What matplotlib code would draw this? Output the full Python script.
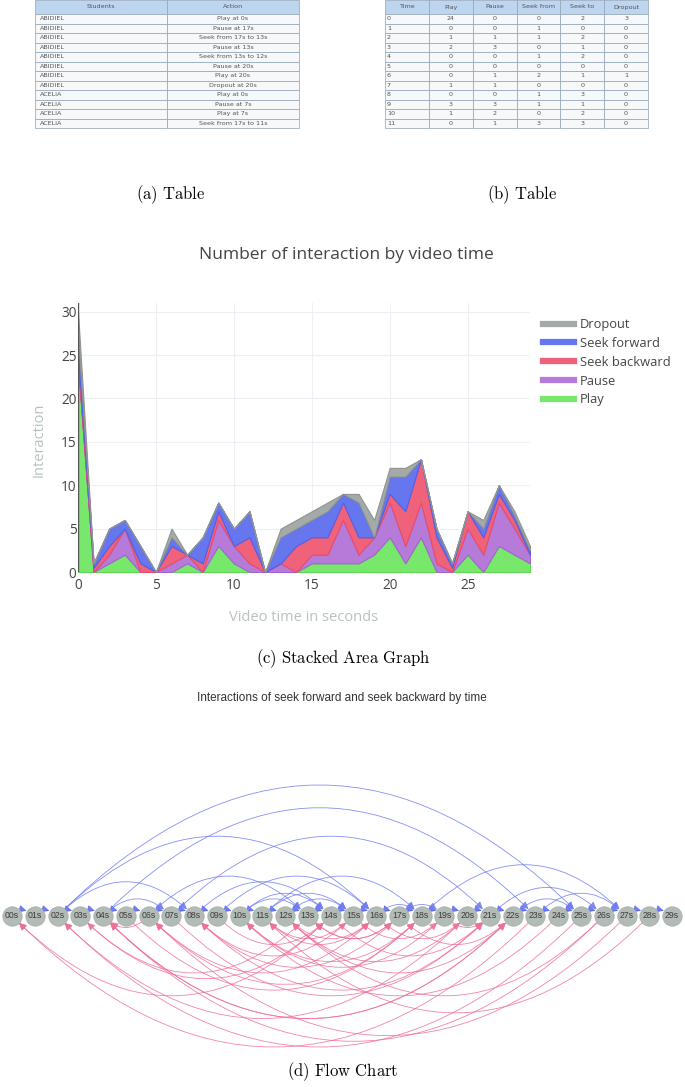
import numpy as np
import matplotlib
matplotlib.use('Agg')
import matplotlib.pyplot as plt
from matplotlib.table import Table
from matplotlib.patches import FancyArrowPatch
from matplotlib.lines import Line2D

plt.rcParams['mathtext.fontset'] = 'cm'

# ---- data: table (a)
students = ['ABIDIEL'] * 8 + ['ACELIA'] * 4
actions = ['Play at 0s', 'Pause at 17s', 'Seek from 17s to 13s', 'Pause at 13s',
           'Seek from 13s to 12s', 'Pause at 20s', 'Play at 20s', 'Dropout at 20s',
           'Play at 0s', 'Pause at 7s', 'Play at 7s', 'Seek from 17s to 11s']

# ---- data: table (b)
tb_header = ['Time', 'Play', 'Pause', 'Seek from', 'Seek to', 'Dropout']
tb_time = list(range(12))
tb_play = [24, 0, 1, 2, 0, 0, 0, 1, 0, 3, 1, 0]
tb_pause = [0, 0, 1, 3, 0, 0, 1, 1, 0, 3, 2, 1]
tb_from = [0, 1, 1, 0, 1, 0, 2, 0, 1, 1, 0, 3]
tb_to = [2, 0, 2, 1, 2, 0, 1, 0, 3, 1, 2, 3]
tb_drop = [3, 0, 0, 0, 0, 0, 1, 0, 0, 0, 0, 0]

# ---- data: stacked area (c)
t = list(range(30))
play = [24, 0, 1, 2, 0, 0, 0, 1, 0, 3, 1, 0, 0, 0, 0, 1, 1, 1, 1, 2, 4, 1, 4, 0, 0, 2, 0, 3, 2, 1]
pause = [0, 0, 1, 3, 0, 0, 1, 1, 0, 3, 2, 1, 0, 1, 0, 1, 1, 5, 1, 2, 4, 2, 4, 1, 0, 3, 2, 5, 3, 1]
seek_back = [1, 0.5, 1, 0, 1, 0, 2, 0, 1, 1, 0, 3, 0, 0, 3, 2, 2, 2, 2, 0, 1, 4, 5, 3, 0.5, 2, 2, 1, 1, 0]
seek_fwd = [2, 0.5, 2, 1, 2, 0, 1, 0, 3, 1, 2, 3, 0, 3, 2, 2, 3, 1, 4, 0, 2, 4, 0, 1, 0.5, 0, 1, 1, 0.5, 0.5]
dropout = [3, 0, 0, 0, 0, 0, 1, 0, 0, 0, 0, 0, 0, 1, 1, 1, 1, 0, 1, 2, 1, 1, 0, 0, 0, 0, 1, 0, 0.5, 0.5]
series_names = ['Play', 'Pause', 'Seek backward', 'Seek forward', 'Dropout']
fills = ['#78e86c', '#b67ad8', '#f0627a', '#6676ee', '#a4aaa8']
edges = ['#5cd852', '#a264d0', '#e84c68', '#5060e6', '#8e9492']

# ---- data: flow chart (d)
nodes = list(range(30))
node_labels = ['%02ds' % n for n in nodes]
forward_edges = [(2, 25), (4, 23), (7, 21), (2, 16), (2, 8), (4, 7), (9, 16), (11, 18),
                 (8, 14), (10, 13), (10, 14), (11, 15), (12, 15), (6, 13), (17, 19),
                 (18, 27), (21, 26), (22, 25), (23, 27), (16, 18)]
backward_edges = [(23, 0), (14, 0), (20, 2), (25, 2), (13, 3), (22, 4), (26, 4), (6, 4),
                  (18, 6), (27, 6), (21, 8), (15, 8), (24, 10), (19, 10), (28, 11),
                  (16, 11), (26, 12), (20, 12), (17, 13),
                  (3, 14), (9, 14), (11, 15), (6, 16), (12, 16), (8, 17), (13, 17),
                  (5, 18), (10, 18), (15, 19), (7, 21), (14, 21), (19, 21), (4, 22),
                  (12, 22), (17, 22), (16, 20)]

W, H = 685.0, 1087.0
fig = plt.figure(figsize=(6.85, 10.87), dpi=100)


def box(x0, y0, x1, y1):
    # pixel box -> figure fraction
    return [x0 / W, 1 - y1 / H, (x1 - x0) / W, (y1 - y0) / H]


def draw_table(ax, header, rows, locs):
    ax.axis('off')
    tab = Table(ax, bbox=[0, 0, 1, 1])
    ncol = len(header)
    for c, name in enumerate(header):
        tab.add_cell(0, c, 1.0 / ncol, 14, text=name, loc='center',
                     facecolor='#bdd5ef', edgecolor='#8fa3b6')
    for r, row in enumerate(rows, start=1):
        for c, val in enumerate(row):
            tab.add_cell(r, c, 1.0 / ncol, 9.5, text=str(val), loc=locs[c],
                         facecolor='#f6f8fa', edgecolor='#8fa3b6')
    tab.auto_set_font_size(False)
    tab.set_fontsize(4.6)
    for cell in tab.get_celld().values():
        cell.set_linewidth(0.5)
        cell.PAD = 0.04
        cell.get_text().set_color('#555555')
    ax.add_table(tab)


# (a) table
ax_a = fig.add_axes(box(35, 0, 299, 128))
draw_table(ax_a, ['Students', 'Action'], list(zip(students, actions)), ['left', 'center'])

# (b) table
ax_b = fig.add_axes(box(385, 0, 648, 128))
rows_b = list(zip(tb_time, tb_play, tb_pause, tb_from, tb_to, tb_drop))
draw_table(ax_b, tb_header, rows_b, ['left'] + ['center'] * 5)

cap = dict(fontsize=12, ha='center', va='center')
fig.text(171 / W, 1 - 195 / H, r'$\mathrm{(a)\ Table}$', **cap)
fig.text(522 / W, 1 - 195 / H, r'$\mathrm{(b)\ Table}$', **cap)

# (c) stacked area
fig.text(346 / W, 1 - 255 / H, 'Number of interaction by video time', ha='center', va='center',
         fontsize=12.5, color='#444444', family='Open Sans')
ax = fig.add_axes(box(78, 303, 530, 572))
polys = ax.stackplot(t, play, pause, seek_back, seek_fwd, dropout, colors=fills, zorder=2)
for p, ec in zip(polys, edges):
    p.set_edgecolor(ec)
    p.set_linewidth(0.8)
ax.set_xlim(0, 29)
ax.set_ylim(0, 31)
ax.set_xticks([0, 5, 10, 15, 20, 25])
ax.set_yticks([0, 5, 10, 15, 20, 25, 30])
ax.grid(color='#eceff3', lw=0.8, zorder=0)
ax.axvline(0, color='#555555', lw=1, zorder=3)
for s in ax.spines.values():
    s.set_visible(False)
ax.tick_params(length=0, labelsize=9.8, labelcolor='#444444')
ax.tick_params(axis='y', pad=1)
ax.tick_params(axis='x', pad=4)
for lab in ax.get_xticklabels() + ax.get_yticklabels():
    lab.set_family('Open Sans')
ax.set_xlabel('Video time in seconds', fontsize=10.5, color='#b8c2c0', family='Open Sans')
ax.set_ylabel('Interaction', fontsize=10.5, color='#b8c2c0', family='Open Sans')
ax.xaxis.set_label_coords(0.498, -0.14)
ax.yaxis.set_label_coords(-0.07, 0.49)

handles = [Line2D([], [], color=c, lw=4.5) for c in fills[::-1]]
leg = fig.legend(handles, series_names[::-1], loc='upper left', bbox_to_anchor=(538 / W, 1 - 313 / H),
                 frameon=False, prop={'family': 'Open Sans', 'size': 9.3}, handlelength=2.4,
                 handletextpad=0.45, labelspacing=0.45, borderaxespad=0)
for txt in leg.get_texts():
    txt.set_color('#444444')

fig.text(343 / W, 1 - 659 / H, r'$\mathrm{(c)\ Stacked\ Area\ Graph}$', **cap)

# (d) flow chart
fig.text(342 / W, 1 - 698 / H, 'Interactions of seek forward and seek backward by time', ha='center',
         va='center', fontsize=8.5, color='#333333', family='Liberation Sans')
ax_f = fig.add_axes(box(0, 740, 685, 1062))
step = 22.76
ax_f.set_xlim(-12 / step, (685 - 12) / step)
ax_f.set_ylim(-(1062 - 916), 916 - 740)
ax_f.axis('off')


def arc(a, b, above, color):
    d = np.sign(b - a)
    rad = -0.5 * d if above else 0.5 * d
    ax_f.add_patch(FancyArrowPatch((a, 0), (b, 0), connectionstyle='arc3,rad=%g' % rad,
                                   arrowstyle='-|>,head_length=0.45,head_width=0.22',
                                   mutation_scale=10, color=color, lw=0.6, alpha=0.85,
                                   shrinkA=7, shrinkB=7, zorder=2))


for n in nodes[:-1]:
    arc(n, n + 1, True, '#5a6af0')
for a, b in forward_edges:
    arc(a, b, True, '#6f7cf2')
for a, b in backward_edges:
    arc(a, b, False, '#ee6f98')

ax_f.scatter(nodes, np.zeros(len(nodes)), s=195, color='#b3bbb7', edgecolor='#a5ada9', lw=0.5, zorder=3)
for n, lab in zip(nodes, node_labels):
    ax_f.text(n, 0, lab, ha='center', va='center', fontsize=6.3, color='#3c3c3c',
              family='Liberation Sans', zorder=4)

fig.text(343 / W, 1 - 1072 / H, r'$\mathrm{(d)\ Flow\ Chart}$', **cap)

fig.savefig('out.png', dpi=100)
